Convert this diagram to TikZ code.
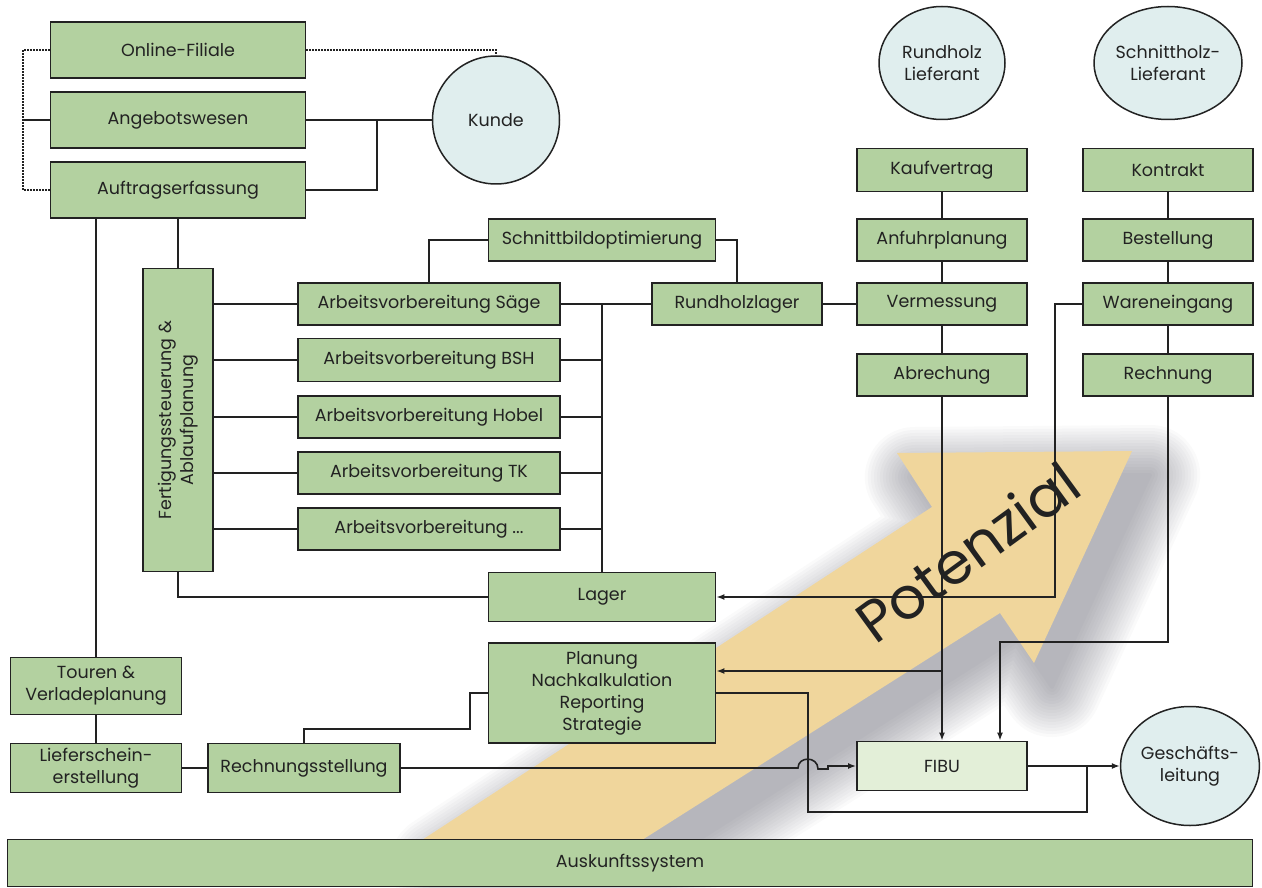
\documentclass[tikz,border=0pt]{standalone}
\usepackage{fontspec}
\setmainfont{Poppins}
\usetikzlibrary{arrows.meta,shapes.geometric}
\definecolor{boxg}{HTML}{B3D1A0}
\definecolor{circ}{HTML}{E0EEEE}
\definecolor{fibuc}{HTML}{E3EFD8}
\definecolor{tanc}{HTML}{F0D69C}
\definecolor{ln}{HTML}{222222}
\definecolor{shad}{HTML}{50505E}
\begin{document}
\begin{tikzpicture}[x=1pt,y=-1pt,
  lab/.style={font=\fontsize{17.5}{22}\selectfont, text=ln, align=center},
  box/.style={lab, draw=ln, line width=1.8pt, fill=boxg, rectangle, inner sep=0pt},
  ell/.style={lab, draw=ln, line width=1.5pt, fill=circ, ellipse, inner sep=0pt},
  wh/.style 2 args={minimum width=#1pt, minimum height=#2pt},
  conn/.style={draw=ln, line width=1.6pt},
  arr/.style={conn, -{Latex[length=8pt,width=6pt]}},
  dotl/.style={draw=ln, line width=1.5pt, dash pattern=on 1.6pt off 1.4pt}]
\useasboundingbox (0,0) rectangle (1262,888);
% shadow of big arrow
\foreach \w in {100,94,...,4}{
  \begin{scope}[transparency group, opacity=0.033, shift={(18,24)}]
    \filldraw[shad, line width=\w pt, line join=round]
      (422,840) -- (932,507) -- (897,453) -- (1132,451) -- (1034,663) -- (1000,613) -- (642,840) -- cycle;
  \end{scope}}
\fill[tanc] (422,840) -- (932,507) -- (897,453) -- (1132,451) -- (1034,663) -- (1000,613) -- (642,840) -- cycle;
\node[rotate=36, font=\fontsize{58}{60}\selectfont, text=ln, inner sep=0pt] (pot) at (967,552) {Potenzial};
% nodes
\node[box,wh={255}{56}] (online) at (178,50) {Online-Filiale};
\node[box,wh={255}{56}] (angebot) at (178,120) {Angebotswesen};
\node[box,wh={255}{56}] (auftrag) at (178,190) {Auftragserfassung};
\node[ell,wh={127}{128}] (kunde) at (496,120) {Kunde};
\node[ell,wh={126}{113}] (rlief) at (942,63) {Rundholz\\Lieferant};
\node[ell,wh={124}{113}] (slief) at (1168,63) {Schnittholz-\\Lieferant};
\node[box,wh={170}{43}] (kauf) at (942,170) {Kaufvertrag};
\node[box,wh={170}{42}] (anfuhr) at (942,240) {Anfuhrplanung};
\node[box,wh={170}{42}] (verm) at (942,304) {Vermessung};
\node[box,wh={170}{42}] (abr) at (942,375) {Abrechung};
\node[box,wh={170}{43}] (kontr) at (1168,170) {Kontrakt};
\node[box,wh={170}{42}] (best) at (1168,240) {Bestellung};
\node[box,wh={170}{42}] (waren) at (1168,304) {Wareneingang};
\node[box,wh={170}{42}] (rechn) at (1168,375) {Rechnung};
\node[box,wh={227}{42}] (sopt) at (602,240) {Schnittbildoptimierung};
\node[box,wh={170}{42}] (rlager) at (737,304) {Rundholzlager};
\node[box,wh={262}{42}] (av1) at (429,304) {Arbeitsvorbereitung Säge};
\node[box,wh={262}{43}] (av2) at (429,360) {Arbeitsvorbereitung BSH};
\node[box,wh={262}{42}] (av3) at (429,417) {Arbeitsvorbereitung Hobel};
\node[box,wh={262}{42}] (av4) at (429,473) {Arbeitsvorbereitung TK};
\node[box,wh={262}{42}] (av5) at (429,529) {Arbeitsvorbereitung ...};
\node[box,wh={70}{303}] (fert) at (178,420) {};
\node[lab, rotate=90] (fertt) at (fert.center) {Fertigungssteuerung \&\\Ablaufplanung};
\node[box,wh={227}{49}] (lager) at (602,597) {Lager};
\node[box,wh={227}{100}] (plan) at (602,693) {Planung\\Nachkalkulation\\Reporting\\Strategie};
\node[box,wh={171}{57}] (touren) at (96,686) {Touren \&\\Verladeplanung};
\node[box,wh={171}{49}] (liefer) at (96,768) {Lieferschein-\\erstellung};
\node[box,wh={192}{49}] (rechst) at (304,768) {Rechnungsstellung};
\node[box,wh={170}{49},fill=fibuc] (fibu) at (942,766) {FIBU};
\node[ell,wh={127}{119}] (gesch) at (1190,766) {Geschäfts-\\leitung};
\node[box,wh={1245}{47}] (ausk) at (630,863) {Auskunftssystem};
% coordinates
\coordinate (dl1) at (23,50);
\coordinate (dl2) at (23,190);
\coordinate (al) at (23,120);
\coordinate (kj) at (377,120);
\coordinate (pa) at (942,671);
\coordinate (wl) at (1055,304);
\coordinate (rf) at (1000,642);
\coordinate (pb) at (808,812);
\coordinate (fg) at (1087,766);
\coordinate (rp) at (470,729);
% connectors
\draw[dotl] (online.west) -- (dl1) -- (dl2) -- (auftrag.west);
\draw[dotl] (online.east) -| (kunde.north);
\draw[conn] (angebot.west) -- (al);
\draw[conn] (angebot.east) -- (kunde.west);
\draw[conn] (auftrag.east) -| (kj);
\draw[conn] (auftrag.south -| touren.north) -- (touren.north);
\draw[conn] (auftrag.south -| fert.north) -- (fert.north);
\draw[conn] (fert.south) |- (lager.west);
\foreach \n in {av1,av2,av3,av4,av5}{
  \draw[conn] (\n.west) -- (\n.west -| fert.east);
  \draw[conn] (\n.east) -- (\n.east -| lager.north);}
\draw[conn] (av1.east) -- (rlager.west);
\draw[conn] (av1.east -| lager.north) -- (lager.north);
\draw[conn] (sopt.west) -| (av1.north);
\draw[conn] (sopt.east) -| (rlager.north);
\draw[conn] (rlager.east) -- (verm.west);
\draw[conn] (kauf.south) -- (anfuhr.north) (anfuhr.south) -- (verm.north) (verm.south) -- (abr.north);
\draw[conn] (kontr.south) -- (best.north) (best.south) -- (waren.north) (waren.south) -- (rechn.north);
\draw[arr] (abr.south) -- (fibu.north);
\draw[arr] (pa) -- (pa -| plan.east);
\draw[arr] (waren.west) -- (wl) |- (lager.east);
\draw[arr] (rechn.south) |- (rf) -- (rf |- fibu.north);
\draw[conn] (plan.east) -| (pb) -| (fg);
\draw[arr] (fibu.east) -- (gesch.west);
\draw[conn] (touren.south) -- (liefer.north);
\draw[conn] (liefer.east) -- (rechst.west);
\draw[conn] (rechst.north) |- (rp) |- (plan.west);
\draw[arr] (rechst.east) -- (798,768) .. controls (798,756) and (818,756) .. (818,769) -- (828,769) -- (828,766) -- (fibu.west);
\end{tikzpicture}
\end{document}
